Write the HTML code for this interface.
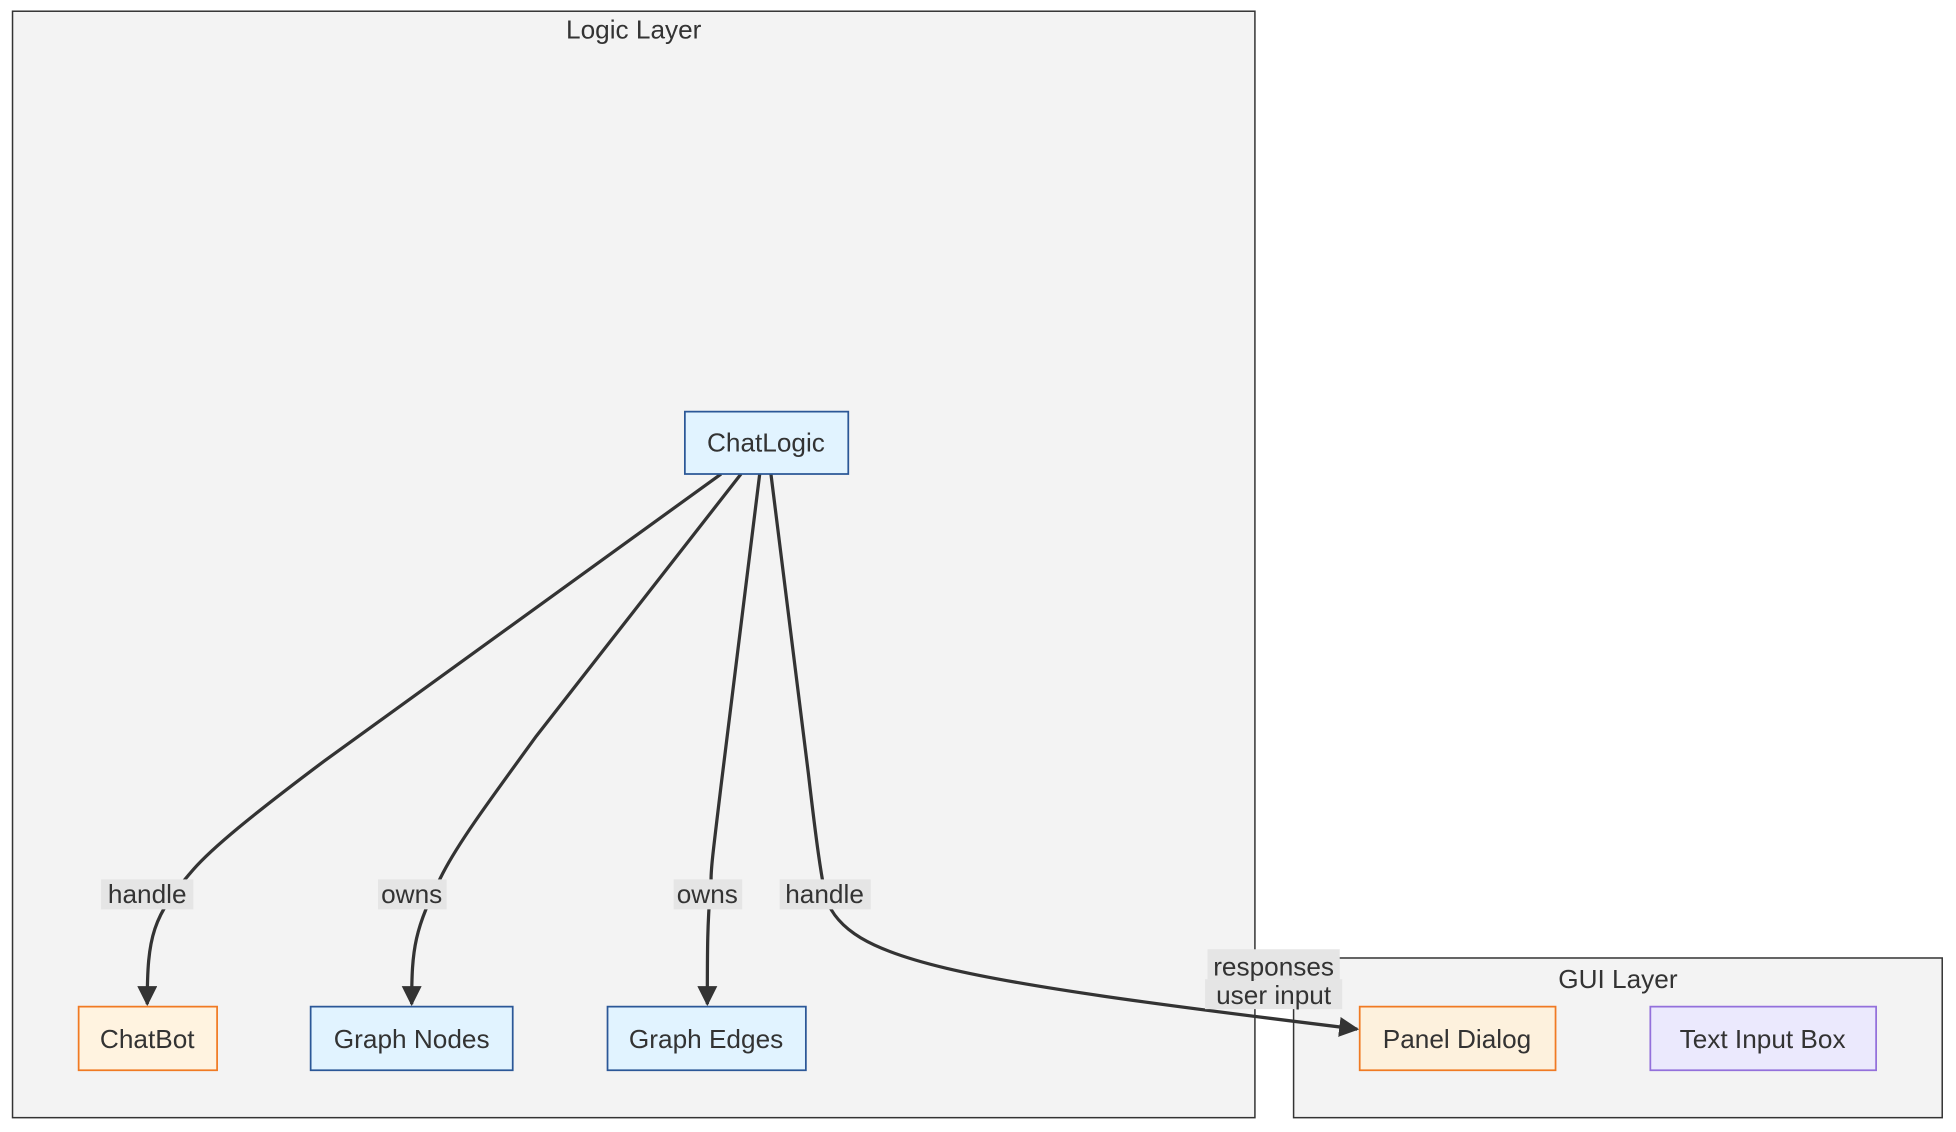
<!DOCTYPE html>
<html><head><meta charset="utf-8"><style>
html,body{margin:0;padding:0;background:#fff;}
svg{display:block;}
text{font-family:"Liberation Sans","DejaVu Sans",sans-serif;fill:#333;}
</style></head><body>
<svg width="1956" height="1132" viewBox="0 0 1568 907.5" xmlns="http://www.w3.org/2000/svg">
<defs>
<marker id="b" viewBox="0 0 10 10" refX="9" refY="5" markerWidth="16" markerHeight="16" markerUnits="userSpaceOnUse" orient="auto">
<path d="M0,0 L10,5 L0,10 z" fill="#333"/>
</marker>
</defs>
<rect x="10" y="9" width="996" height="887" fill="#f3f3f3" stroke="#333" stroke-width="1.2"/>
<text x="508" y="31" font-size="21" text-anchor="middle">Logic Layer</text>
<rect x="1037" y="768" width="520" height="128" fill="#f3f3f3" stroke="#333" stroke-width="1.2"/>
<text x="1297" y="792" font-size="21" text-anchor="middle">GUI Layer</text>

<g fill="none" stroke="#333" stroke-width="2.6">
<path d="M578,380 L260,610 C200,655 170,680 155,697 C122,735 118,750 118,805" marker-end="url(#b)"/>
<path d="M594,380 L430,590 C390,645 368,675 355,700 C332,745 330,760 330,805" marker-end="url(#b)"/>
<path d="M609,380 L578,630 C572,680 570,695 570,705 C567,740 567,760 567,805" marker-end="url(#b)"/>
<path d="M618,380 L648,620 C655,680 658,700 662,720 C680,770 760,785 1088,825" marker-end="url(#b)"/>
</g>

<g font-size="21" text-anchor="middle">
<rect x="81" y="705" width="74" height="24" fill="#e5e5e5"/><text x="118" y="724">handle</text>
<rect x="303" y="705" width="55" height="24" fill="#e5e5e5"/><text x="330" y="724">owns</text>
<rect x="540" y="705" width="55" height="24" fill="#e5e5e5"/><text x="567" y="724">owns</text>
<rect x="625" y="705" width="73" height="24" fill="#e5e5e5"/><text x="661" y="724">handle</text>
<rect x="968" y="761" width="106" height="24" fill="#e5e5e5"/><rect x="966" y="785" width="110" height="24" fill="#e5e5e5"/>
<text x="1021" y="782">responses</text><text x="1021" y="805">user input</text>
</g>

<g font-size="21" text-anchor="middle">
<rect x="549" y="330" width="131" height="50" fill="#e1f3ff" stroke="#2b5797" stroke-width="1.4"/><text x="614" y="362">ChatLogic</text>
<rect x="63" y="807" width="111" height="51" fill="#fff3e0" stroke="#f07a23" stroke-width="1.4"/><text x="118" y="840">ChatBot</text>
<rect x="249" y="807" width="162" height="51" fill="#e1f3ff" stroke="#2b5797" stroke-width="1.4"/><text x="330" y="840">Graph Nodes</text>
<rect x="487" y="807" width="159" height="51" fill="#e1f3ff" stroke="#2b5797" stroke-width="1.4"/><text x="566" y="840">Graph Edges</text>
<rect x="1090" y="807" width="157" height="51" fill="#fdf1dd" stroke="#f07a23" stroke-width="1.4"/><text x="1168" y="840">Panel Dialog</text>
<rect x="1323" y="807" width="181" height="51" fill="#ebe9fd" stroke="#9370db" stroke-width="1.4"/><text x="1413" y="840">Text Input Box</text>
</g>
</svg>
</body></html>
